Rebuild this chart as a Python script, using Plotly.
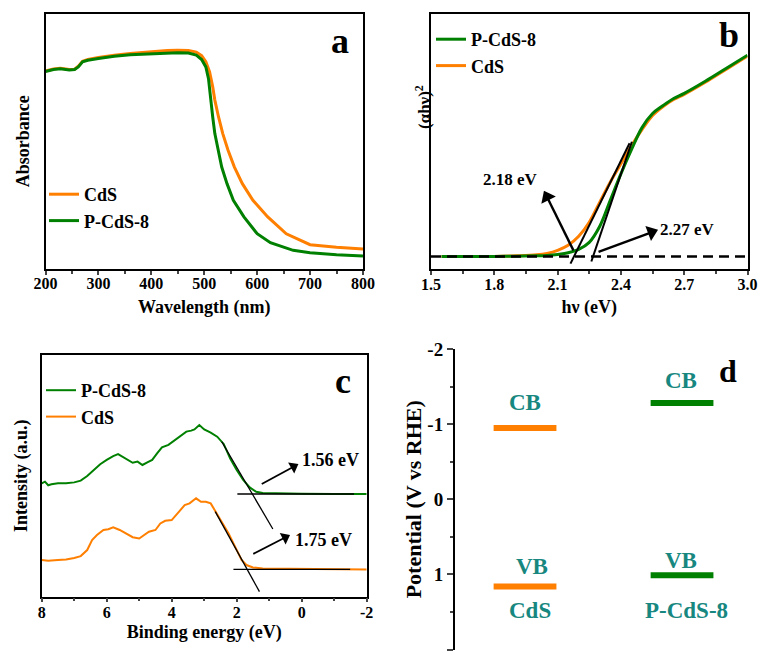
import plotly.graph_objects as go

W, H = 761, 657
FONT = "Liberation Serif"
ORANGE = "#FF7F00"
GREEN = "#008000"
TEAL = "#17877F"

# ---------------- panel a : UV-vis absorbance ----------------
wl_cds = [200, 215, 228, 245, 255, 262, 270, 280, 300, 330, 360, 400, 430, 450, 470, 485, 495, 503, 510,
          516, 520, 527, 535, 545, 557, 572, 592, 620, 655, 700, 750, 800]
abs_cds = [0.775, 0.783, 0.786, 0.781, 0.782, 0.794, 0.813, 0.820, 0.828, 0.837, 0.843, 0.851, 0.855, 0.856,
           0.855, 0.849, 0.835, 0.811, 0.772, 0.713, 0.661, 0.595, 0.530, 0.465, 0.399, 0.334, 0.269, 0.204,
           0.138, 0.095, 0.085, 0.078]
wl_p = [200, 215, 228, 245, 255, 262, 270, 280, 300, 330, 360, 400, 430, 450, 470, 485, 495, 503, 508, 512,
        516, 520, 526, 533, 543, 555, 575, 600, 625, 668, 700, 750, 800]
abs_p = [0.773, 0.781, 0.784, 0.779, 0.781, 0.791, 0.811, 0.817, 0.824, 0.833, 0.839, 0.843, 0.846, 0.846,
         0.845, 0.837, 0.820, 0.791, 0.745, 0.661, 0.595, 0.530, 0.465, 0.399, 0.334, 0.269, 0.204, 0.138,
         0.103, 0.073, 0.064, 0.056, 0.051]

# ---------------- panel b : Tauc plot ----------------
hv = [1.55, 1.7, 1.8, 1.9, 2.0, 2.05, 2.1, 2.15, 2.2, 2.25, 2.3, 2.35, 2.4, 2.45, 2.5, 2.55, 2.6, 2.65,
      2.7, 2.8, 2.9, 3.0]
tauc_p = [0, 0, 0, 0.001, 0.003, 0.005, 0.01, 0.018, 0.035, 0.07, 0.15, 0.28, 0.41, 0.53, 0.64, 0.71, 0.75,
          0.785, 0.81, 0.87, 0.935, 1.0]
tauc_cds = [0, 0, 0, 0.003, 0.008, 0.015, 0.03, 0.055, 0.10, 0.17, 0.27, 0.37, 0.46, 0.55, 0.63, 0.70, 0.745,
            0.78, 0.805, 0.865, 0.93, 0.995]
tangent_b1_x = [2.161, 2.441]
tangent_b1_y = [-0.036, 0.562]
tangent_b2_x = [2.260, 2.452]
tangent_b2_y = [-0.025, 0.570]
baseline_b_x = [1.5, 3.0]
baseline_b_y = [0, 0]
arrow_b1_x = [2.175, 2.050]
arrow_b1_y = [0.030, 0.295]
arrow_b2_x = [2.294, 2.545]
arrow_b2_y = [0.022, 0.120]
gap_labels = ["2.18 eV", "2.27 eV"]

# ---------------- panel c : VB-XPS ----------------
be_p = [8.0, 7.9, 7.8, 7.7, 7.5, 7.25, 7.0, 6.8, 6.6, 6.4, 6.2, 6.0, 5.8, 5.65, 5.5, 5.35, 5.2, 5.05, 4.9,
        4.75, 4.6, 4.45, 4.3, 4.1, 3.9, 3.7, 3.55, 3.4, 3.3, 3.15, 3.0, 2.8, 2.6, 2.4, 2.2, 2.0, 1.8, 1.6,
        1.4, 1.2, 1.0, 0.5, 0.0, -1.0, -2.0]
int_p = [0.469, 0.476, 0.461, 0.465, 0.469, 0.469, 0.473, 0.480, 0.499, 0.524, 0.548, 0.566, 0.582, 0.590,
         0.577, 0.566, 0.554, 0.559, 0.545, 0.556, 0.566, 0.593, 0.618, 0.628, 0.648, 0.665, 0.683, 0.687,
         0.692, 0.710, 0.692, 0.679, 0.662, 0.632, 0.572, 0.524, 0.483, 0.452, 0.434, 0.429, 0.428, 0.426,
         0.426, 0.425, 0.425]
be_cds = [8.0, 7.8, 7.5, 7.25, 7.0, 6.8, 6.6, 6.45, 6.3, 6.1, 5.95, 5.8, 5.6, 5.4, 5.2, 5.0, 4.85, 4.7, 4.5,
          4.35, 4.2, 4.0, 3.8, 3.6, 3.45, 3.25, 3.1, 2.95, 2.8, 2.65, 2.45, 2.25, 2.05, 1.85, 1.7, 1.5, 1.2,
          0.5, -0.5, -2.0]
int_cds = [0.152, 0.149, 0.152, 0.154, 0.160, 0.168, 0.193, 0.234, 0.255, 0.276, 0.279, 0.287, 0.276, 0.262,
           0.246, 0.241, 0.255, 0.269, 0.276, 0.303, 0.314, 0.317, 0.348, 0.379, 0.386, 0.407, 0.393, 0.393,
           0.386, 0.352, 0.310, 0.262, 0.207, 0.152, 0.131, 0.121, 0.117, 0.116, 0.114, 0.113]
tangent_c1_x = [2.46, 0.888]
tangent_c1_y = [0.641, 0.280]
base_c1_x = [1.98, -1.61]
base_c1_y = [0.425, 0.425]
tangent_c2_x = [2.66, 1.30]
tangent_c2_y = [0.352, 0.021]
base_c2_x = [2.10, -1.49]
base_c2_y = [0.113, 0.113]
arrow_c1_x = [1.23, 0.25]
arrow_c1_y = [0.466, 0.538]
arrow_c2_x = [1.49, 0.51]
arrow_c2_y = [0.177, 0.245]
vb_labels = ["1.56 eV", "1.75 eV"]

# ---------------- panel d : band positions ----------------
samples = ["CdS", "P-CdS-8"]
sample_pos = [0, 1]
cb_pot = [-0.95, -1.28]
vb_pot = [1.16, 1.01]
band_halfwidth = 0.2
sample_colors = [ORANGE, GREEN]


def fnt(size, color="black"):
    return dict(family=FONT, size=size, color=color, weight="bold")


fig = go.Figure()

# panel a traces
fig.add_trace(go.Scatter(x=wl_cds, y=abs_cds, mode="lines", name="CdS", line=dict(color=ORANGE, width=3),
                         xaxis="x", yaxis="y", legend="legend"))
fig.add_trace(go.Scatter(x=wl_p, y=abs_p, mode="lines", name="P-CdS-8", line=dict(color=GREEN, width=3),
                         xaxis="x", yaxis="y", legend="legend"))

# panel b traces
fig.add_trace(go.Scatter(x=hv, y=tauc_cds, mode="lines", name="CdS",
                         line=dict(color=ORANGE, width=3, shape="spline"),
                         xaxis="x2", yaxis="y2", legend="legend2"))
fig.add_trace(go.Scatter(x=hv, y=tauc_p, mode="lines", name="P-CdS-8",
                         line=dict(color=GREEN, width=3, shape="spline"),
                         xaxis="x2", yaxis="y2", legend="legend2"))
fig.add_trace(go.Scatter(x=baseline_b_x, y=baseline_b_y, mode="lines", showlegend=False,
                         line=dict(color="black", width=2.5, dash="10px,6px"), xaxis="x2", yaxis="y2"))
for tx, ty in [(tangent_b1_x, tangent_b1_y), (tangent_b2_x, tangent_b2_y)]:
    fig.add_trace(go.Scatter(x=tx, y=ty, mode="lines", showlegend=False, line=dict(color="black", width=2),
                             xaxis="x2", yaxis="y2"))
for ax_, ay_ in [(arrow_b1_x, arrow_b1_y), (arrow_b2_x, arrow_b2_y)]:
    fig.add_trace(go.Scatter(x=ax_, y=ay_, mode="lines+markers", showlegend=False,
                             line=dict(color="black", width=2.4),
                             marker=dict(symbol="triangle-up", size=[0, 14], angleref="previous",
                                         color="black", opacity=1, line=dict(width=0)),
                             xaxis="x2", yaxis="y2"))

# panel c traces
fig.add_trace(go.Scatter(x=be_cds, y=int_cds, mode="lines", name="CdS", line=dict(color=ORANGE, width=2),
                         xaxis="x3", yaxis="y3", legend="legend3"))
fig.add_trace(go.Scatter(x=be_p, y=int_p, mode="lines", name="P-CdS-8", line=dict(color=GREEN, width=2),
                         xaxis="x3", yaxis="y3", legend="legend3"))
for tx, ty in [(tangent_c1_x, tangent_c1_y), (base_c1_x, base_c1_y), (tangent_c2_x, tangent_c2_y),
               (base_c2_x, base_c2_y)]:
    fig.add_trace(go.Scatter(x=tx, y=ty, mode="lines", showlegend=False, line=dict(color="black", width=1.3),
                             xaxis="x3", yaxis="y3"))
for ax_, ay_ in [(arrow_c1_x, arrow_c1_y), (arrow_c2_x, arrow_c2_y)]:
    fig.add_trace(go.Scatter(x=ax_, y=ay_, mode="lines+markers", showlegend=False,
                             line=dict(color="black", width=1.8),
                             marker=dict(symbol="triangle-up", size=[0, 11], angleref="previous",
                                         color="black", opacity=1, line=dict(width=0)),
                             xaxis="x3", yaxis="y3"))

# panel d traces
for pos, cb, vb, col, name in zip(sample_pos, cb_pot, vb_pot, sample_colors, samples):
    fig.add_trace(go.Scatter(x=[pos - band_halfwidth, pos + band_halfwidth, None,
                                pos - band_halfwidth, pos + band_halfwidth],
                             y=[cb, cb, None, vb, vb], mode="lines", showlegend=False, name=name,
                             line=dict(color=col, width=6), xaxis="x4", yaxis="y4"))


def px(x):
    return x / W


def py(y):
    return 1 - y / H


frame = dict(showline=True, linecolor="black", linewidth=1.5, mirror=True, showgrid=False, zeroline=False)

fig.update_layout(
    width=W, height=H, margin=dict(l=0, r=0, t=0, b=0, autoexpand=False),
    paper_bgcolor="white", plot_bgcolor="white",
    font=fnt(16),
    xaxis=dict(domain=[px(45.5), px(363)], range=[200, 800], anchor="y", ticks="outside", ticklen=4,
               tickwidth=1.5, tickvals=[200, 300, 400, 500, 600, 700, 800], tickfont=fnt(16),
               ticklabelstandoff=-5,
               minor=dict(ticks="outside", ticklen=3, tickwidth=1.5, tickvals=[250, 350, 450, 550, 650, 750]),
               title=dict(text="Wavelength (nm)", font=fnt(18), standoff=9), automargin=False, **frame),
    yaxis=dict(domain=[py(269), py(13.5)], range=[0, 1], anchor="x", showticklabels=False, ticks="",
               title=dict(text="Absorbance", font=fnt(18), standoff=9), automargin=False, **frame),
    xaxis2=dict(domain=[px(431), px(747.5)], range=[1.5, 3.0], anchor="y2", ticks="outside", ticklen=4,
                tickwidth=1.5, tickvals=[1.5, 1.8, 2.1, 2.4, 2.7, 3.0],
                ticktext=["1.5", "1.8", "2.1", "2.4", "2.7", "3.0"], tickfont=fnt(16),
                ticklabelstandoff=-4,
                minor=dict(ticks="outside", ticklen=3, tickwidth=1.5, tickvals=[1.65, 1.95, 2.25, 2.55, 2.85]),
                title=dict(text="hν (eV)", font=fnt(18), standoff=8), automargin=False, **frame),
    yaxis2=dict(domain=[py(269), py(13.5)], range=[-0.0625, 1.207], anchor="x2", showticklabels=False,
                ticks="", automargin=False, **frame),
    xaxis3=dict(domain=[px(41.7), px(366.7)], range=[8, -2], anchor="y3", ticks="outside", ticklen=4,
                tickwidth=1.5, tickvals=[8, 6, 4, 2, 0, -2], ticktext=["8", "6", "4", "2", "0", "-2"],
                tickfont=fnt(16), ticklabelstandoff=-4,
                minor=dict(ticks="outside", ticklen=3, tickwidth=1.5, tickvals=[7, 5, 3, 1, -1]),
                title=dict(text="Binding energy (eV)", font=fnt(18), standoff=6), automargin=False, **frame),
    yaxis3=dict(domain=[py(596.7), py(355)], range=[0, 1], anchor="x3", showticklabels=False, ticks="",
                title=dict(text="Intensity (a.u.)", font=fnt(18), standoff=8), automargin=False, **frame),
    xaxis4=dict(domain=[px(455), 1.0], range=[-0.446, 1.503], anchor="y4", visible=False),
    yaxis4=dict(domain=[py(649.5), py(349)], range=[2, -2], anchor="x4", showline=True, linecolor="black",
                linewidth=2, mirror=False, showgrid=False, zeroline=False, ticks="outside", ticklen=6,
                tickwidth=2, tickvals=[-2, -1, 0, 1, 2], ticktext=["-2", "-1", "0", "1", "2"],
                tickfont=fnt(19),
                minor=dict(ticks="outside", ticklen=3, tickwidth=2, tickvals=[-1.5, -0.5, 0.5, 1.5]),
                title=dict(text="Potential (V vs RHE)", font=fnt(22), standoff=0), automargin=False),
    legend=dict(x=px(44), y=py(176), xanchor="left", yanchor="top", font=fnt(18), bgcolor="rgba(0,0,0,0)",
                tracegroupgap=0, itemwidth=30),
    legend2=dict(x=px(431), y=py(21), xanchor="left", yanchor="top", font=fnt(18), bgcolor="rgba(0,0,0,0)",
                 traceorder="reversed", tracegroupgap=0, itemwidth=30),
    legend3=dict(x=px(41), y=py(372), xanchor="left", yanchor="top", font=fnt(18), bgcolor="rgba(0,0,0,0)",
                 traceorder="reversed", tracegroupgap=0, itemwidth=30),
)

ann = []
# panel letters
for letter, x, y, s in [("a", 340, 41, 36), ("b", 729, 35, 36), ("c", 343, 381, 36), ("d", 728, 371, 32)]:
    ann.append(dict(text=letter, x=px(x), y=py(y), xref="paper", yref="paper", showarrow=False,
                    font=fnt(s), xanchor="center", yanchor="middle"))
# panel b y title
ann.append(dict(text="(αhν)<sup>2</sup>", x=px(423), y=py(107), xref="paper", yref="paper", showarrow=False,
                textangle=-90, font=fnt(17), xanchor="center", yanchor="middle"))
# panel b labels
ann.append(dict(text=gap_labels[0], x=1.875, y=0.38, xref="x2", yref="y2", showarrow=False, font=fnt(17),
                xanchor="center", yanchor="middle"))
ann.append(dict(text=gap_labels[1], x=2.577, y=0.136, xref="x2", yref="y2", showarrow=False, font=fnt(17),
                xanchor="left", yanchor="middle"))
# panel c labels
ann.append(dict(text=vb_labels[0], x=0.06, y=0.566, xref="x3", yref="y3", showarrow=False, font=fnt(18),
                xanchor="left", yanchor="middle"))
ann.append(dict(text=vb_labels[1], x=0.28, y=0.234, xref="x3", yref="y3", showarrow=False, font=fnt(18),
                xanchor="left", yanchor="middle"))
# panel d labels
for text, x, y in [("CB", 0.0, -1.284), ("VB", 0.044, 0.90), ("CdS", 0.03, 1.476),
                   ("CB", 0.994, -1.581), ("VB", 0.994, 0.81), ("P-CdS-8", 1.03, 1.476)]:
    ann.append(dict(text=text, x=x, y=y, xref="x4", yref="y4", showarrow=False, font=fnt(23, TEAL),
                    xanchor="center", yanchor="middle"))
fig.update_layout(annotations=ann)

fig.write_html("out.html")
